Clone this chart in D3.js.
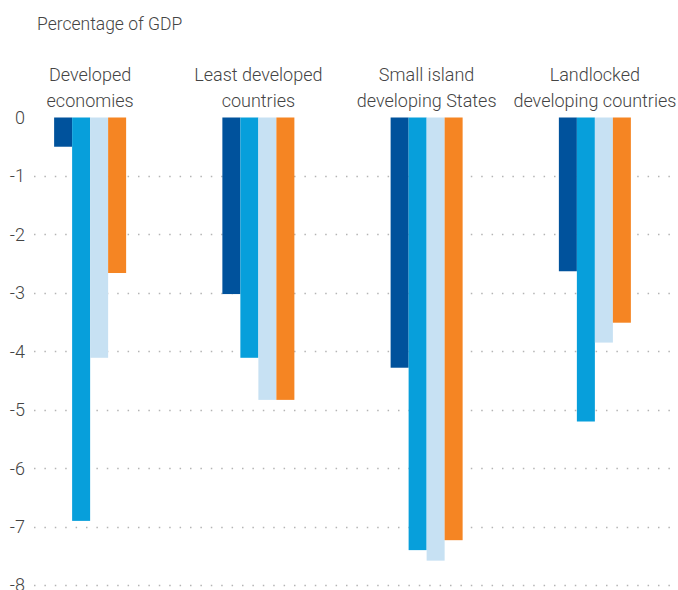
<!DOCTYPE html>
<html>
<head>
<meta charset="utf-8">
<script src="https://cdn.jsdelivr.net/npm/d3@7"></script>
<style>
  html, body { margin: 0; padding: 0; background: #fff; }
  svg { display: block; font-family: Roboto, "Noto Sans", sans-serif; font-weight: 300; }
</style>
</head>
<body>
<svg id="chart" width="678" height="590"></svg>
<script>
// Country groups and their two-line labels
const groups = ["Developed economies", "Least developed countries", "Small island developing States", "Landlocked developing countries"];
const groupLines = [["Developed", "economies"], ["Least developed", "countries"], ["Small island", "developing States"], ["Landlocked", "developing countries"]];

// Four series per group (percentage of GDP)
const seriesKeys = ["s1", "s2", "s3", "s4"];
const seriesColors = ["#00529c", "#079fdb", "#c7e1f3", "#f58523"];
const s1 = [-0.50, -3.02, -4.28, -2.63];
const s2 = [-6.90, -4.11, -7.40, -5.20];
const s3 = [-4.11, -4.83, -7.58, -3.85];
const s4 = [-2.66, -4.83, -7.23, -3.51];
const seriesValues = [s1, s2, s3, s4];

const yTicks = [0, -1, -2, -3, -4, -5, -6, -7, -8];
const yTitle = "Percentage of GDP";

const svg = d3.select("#chart");
const width = 678;

const x0 = d3.scaleBand().domain(groups).range([6, 679]).paddingInner(0.572).paddingOuter(0.286);
const x1 = d3.scaleBand().domain(seriesKeys).range([0, x0.bandwidth()]).padding(0);
const y = d3.scaleLinear().domain([0, -8]).range([117.5, 585.2]);

// Dotted gridlines (no line at zero)
svg.append("g").selectAll("line")
  .data(yTicks.filter(d => d !== 0))
  .join("line")
  .attr("x1", 34).attr("x2", width)
  .attr("y1", d => Math.round(y(d)) + 0.5).attr("y2", d => Math.round(y(d)) + 0.5)
  .attr("stroke", "#b4b4b4")
  .attr("stroke-width", 1.5)
  .attr("stroke-dasharray", "1.5,8.9");

// Y axis labels (plain hyphen as the minus sign)
const yAxis = d3.axisLeft(y).tickValues(yTicks).tickSize(0).tickPadding(0).tickFormat(d => String(d));
const ag = svg.append("g").attr("transform", "translate(25,0)").call(yAxis);
ag.select(".domain").remove();
ag.selectAll("text")
  .attr("font-family", "Roboto, sans-serif")
  .attr("font-weight", 300)
  .attr("font-size", 18)
  .attr("fill", "#444");

// Bars
const rows = groups.map((g, i) => ({ group: g, vals: seriesKeys.map((k, j) => ({ key: k, value: seriesValues[j][i], color: seriesColors[j] })) }));
const gg = svg.append("g").selectAll("g").data(rows).join("g")
  .attr("transform", d => `translate(${x0(d.group)},0)`);
gg.selectAll("rect").data(d => d.vals).join("rect")
  .attr("x", d => x1(d.key))
  .attr("width", x1.bandwidth())
  .attr("y", y(0))
  .attr("height", d => y(d.value) - y(0))
  .attr("fill", d => d.color);

// Group labels
svg.append("g").selectAll("text").data(groups).join("text")
  .attr("x", d => x0(d) + x0.bandwidth() / 2)
  .attr("y", 81)
  .attr("text-anchor", "middle")
  .attr("font-size", 18)
  .attr("fill", "#444")
  .each(function (d, i) {
    const t = d3.select(this);
    groupLines[i].forEach((line, k) => {
      t.append("tspan").attr("x", x0(d) + x0.bandwidth() / 2).attr("dy", k === 0 ? 0 : 26).text(line);
    });
  });

// Axis title
svg.append("text")
  .attr("x", 37).attr("y", 30)
  .attr("font-size", 17.5)
  .attr("fill", "#444")
  .text(yTitle);
</script>
</body>
</html>
